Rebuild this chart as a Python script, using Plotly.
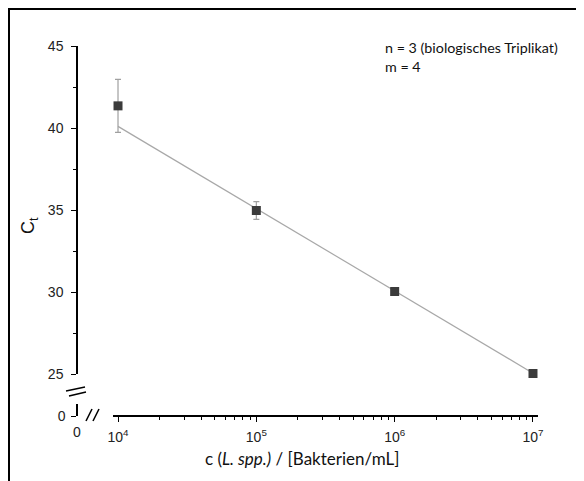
import plotly.graph_objects as go

# ---- data ----
conc = [1e4, 1e5, 1e6, 1e7]
ct_mean = [41.35, 34.97, 30.03, 25.03]
ct_err = [1.62, 0.54, 0.12, 0.10]
fit_conc = [1e4, 1e7]
fit_ct = [40.1, 25.05]
x_tickvals = [1e4, 1e5, 1e6, 1e7]
x_ticktext = ["10<sup>4</sup>", "10<sup>5</sup>", "10<sup>6</sup>", "10<sup>7</sup>"]
x_minor = [m * 10 ** d for d in (4, 5, 6) for m in range(2, 10)]
y_tickvals = [25, 30, 35, 40, 45]
y_minor = [27.5, 32.5, 37.5, 42.5]

OFF = 8  # default page body margin
W, H = 584 - OFF, 481 - OFF
L = 77 - OFF
T = 46 - OFF
B = H - (416 - OFF)
R = W - (538 - OFF)
PW, PH = W - L - R, H - T - B


def px(xs):
    return (xs - OFF - L) / PW


def py(ys):
    return (H - B - (ys - OFF)) / PH


fig = go.Figure()
fig.add_trace(go.Scatter(
    x=fit_conc, y=fit_ct, mode="lines",
    line=dict(color="#a8a8a8", width=1.2), hoverinfo="skip", showlegend=False))
fig.add_trace(go.Scatter(
    x=conc, y=ct_mean, mode="markers", cliponaxis=False,
    marker=dict(symbol="square", size=9, color="#3b3b3b"),
    error_y=dict(type="data", array=ct_err, color="#a0a0a0", thickness=1.2, width=3),
    showlegend=False))
# invisible trace so the short lower y-axis segment (value 0) is drawn
fig.add_trace(go.Scatter(x=[None], y=[None], yaxis="y2", mode="markers",
                         showlegend=False, hoverinfo="skip"))

axis_font = dict(family="Liberation Sans, Arial", size=14, color="#222")

fig.update_layout(
    width=W, height=H,
    margin=dict(l=L, r=R, t=T, b=B, autoexpand=False),
    paper_bgcolor="white", plot_bgcolor="white",
    xaxis=dict(
        type="log", range=[3.9638, 7.0362], domain=[px(113), 1],
        anchor="free", position=0, automargin=False,
        tickvals=x_tickvals, ticktext=x_ticktext,
        ticks="outside", ticklen=5, tickwidth=1.2, tickcolor="black",
        minor=dict(tickvals=x_minor, ticks="outside", ticklen=3, tickwidth=1, tickcolor="black"),
        showline=True, linecolor="black", linewidth=1.5,
        showgrid=False, zeroline=False, tickfont=axis_font, ticklabelstandoff=3),
    yaxis=dict(
        range=[25, 45], domain=[py(374), 1],
        anchor="free", position=0, automargin=False,
        tickvals=y_tickvals,
        ticks="outside", ticklen=5, tickwidth=1.2, tickcolor="black",
        minor=dict(tickvals=y_minor, ticks="outside", ticklen=3, tickwidth=1, tickcolor="black"),
        showline=True, linecolor="black", linewidth=1.5,
        showgrid=False, zeroline=False, tickfont=axis_font, ticklabelstandoff=5),
    yaxis2=dict(
        range=[0, 1], domain=[0, py(404)],
        anchor="free", position=0, automargin=False,
        tickvals=[0], ticktext=["0"],
        ticks="outside", ticklen=5, tickwidth=1.2, tickcolor="black",
        showline=True, linecolor="black", linewidth=1.5,
        showgrid=False, zeroline=False, tickfont=axis_font, ticklabelstandoff=3),
)

text_font = "Lato, Carlito, Calibri, sans-serif"
ann = [
    dict(x=px(383), y=py(48), text="n = 3 (biologisches Triplikat)", xanchor="left", yanchor="middle",
         font=dict(family=text_font, size=14.3, color="#111")),
    dict(x=px(383), y=py(67), text="m = 4", xanchor="left", yanchor="middle",
         font=dict(family=text_font, size=14.3, color="#111")),
    dict(x=px(302), y=py(458), text="c (<i>L. spp.)</i> / [Bakterien/mL]", xanchor="center", yanchor="middle",
         font=dict(family=text_font, size=17, color="#111")),
    dict(x=px(29), y=py(226), text="C<sub>t</sub>", textangle=-90, xanchor="center", yanchor="middle",
         font=dict(family="Liberation Sans, Arial", size=18, color="#111")),
    dict(x=px(77), y=py(432), text="0", xanchor="center", yanchor="middle",
         font=axis_font),
]
for a in ann:
    a.update(xref="paper", yref="paper", showarrow=False)
fig.update_layout(annotations=ann)

lines = [
    # y-axis break marks
    ((66, 391), (85, 387)),
    ((69, 396), (86, 392)),
    # x-axis break marks
    ((86, 421), (92, 409)),
    ((93, 421), (99, 409)),
]
shapes = []
for (x0, y0), (x1, y1) in lines:
    shapes.append(dict(type="line", xref="paper", yref="paper",
                       x0=px(x0), y0=py(y0), x1=px(x1), y1=py(y1),
                       line=dict(color="black", width=1.5)))
# outer frame
shapes.append(dict(type="rect", xref="paper", yref="paper",
                   x0=px(9), y0=py(495), x1=px(579), y1=py(9),
                   line=dict(color="black", width=2), fillcolor="rgba(0,0,0,0)"))
fig.update_layout(shapes=shapes)

fig.write_html("out.html")
